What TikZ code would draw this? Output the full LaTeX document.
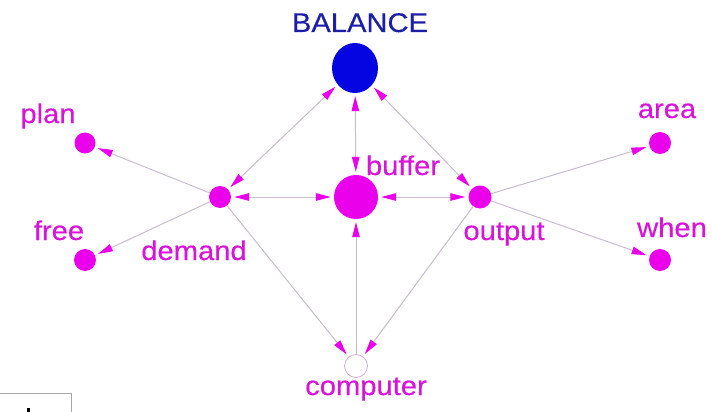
\documentclass[tikz,border=0pt]{standalone}
\usepackage{fontspec}
\newfontfamily\lblfont[FakeStretch=1.08,FakeBold=0.4]{Liberation Sans}
\usetikzlibrary{arrows.meta,shapes.geometric}
\definecolor{mag}{RGB}{235,0,235}
\definecolor{magtxt}{RGB}{215,20,215}
\definecolor{bluedot}{RGB}{5,5,225}
\definecolor{bluetxt}{RGB}{30,30,165}
\definecolor{linegray}{RGB}{200,188,205}
\definecolor{ringgray}{RGB}{205,175,210}
\tikzset{
  dot/.style={circle,fill=mag,draw=none,inner sep=0pt,minimum size=#1},
  lbl/.style={anchor=base,inner sep=0pt,text=magtxt,font=\lblfont\fontsize{27}{30}\selectfont},
  link/.style={draw=linegray,line width=1pt,-{Triangle[length=15pt,width=7.5pt,color=mag]},shorten >=3pt},
  blink/.style={draw=linegray,line width=1pt,{Triangle[length=15pt,width=7.5pt,color=mag]}-{Triangle[length=15pt,width=7.5pt,color=mag]},shorten >=3pt,shorten <=3pt},
}
\begin{document}
\begin{tikzpicture}[x=1pt,y=-1pt]
\useasboundingbox (0,0) rectangle (712,412);
% nodes
\node[ellipse,fill=bluedot,inner sep=0pt,minimum width=46pt,minimum height=50pt] (bal) at (355,68) {};
\node[dot=44pt] (buf) at (356,197) {};
\node[dot=22pt] (dem) at (220,197) {};
\node[dot=23pt] (out) at (480,197) {};
\node[dot=21pt] (plan) at (85,143) {};
\node[dot=22pt] (free) at (85,260) {};
\node[dot=22pt] (area) at (660,143) {};
\node[dot=22pt] (when) at (660,260) {};
\node[circle,fill=white,draw=ringgray,line width=0.8pt,inner sep=0pt,minimum size=23pt] (comp) at (356,366) {};
% labels
\node[lbl,text=bluetxt] (tbal) at (360,32) {BALANCE};
\node[lbl] (tbuf) at (403,175) {buffer};
\node[lbl] (tplan) at (48,123) {plan};
\node[lbl] (tfree) at (59,240) {free};
\node[lbl] (tdem) at (194,260) {demand};
\node[lbl] (tout) at (504,240) {output};
\node[lbl] (tarea) at (667,118) {area};
\node[lbl] (twhen) at (672,237) {when};
\node[lbl] (tcomp) at (366,395) {computer};
% connectors
\draw[link] (dem) -- (plan);
\draw[link] (dem) -- (free);
\draw[blink] (dem) -- (bal);
\draw[blink] (dem) -- (buf);
\draw[link] (dem) -- (comp);
\draw[blink] (bal) -- (buf);
\draw[blink] (bal) -- (out);
\draw[blink] (buf) -- (out);
\draw[link] (comp) -- (buf);
\draw[link] (out) -- (comp);
\draw[link] (out) -- (area);
\draw[link] (out) -- (when);
% partial box at bottom left
\draw[draw=gray!70,line width=0.8pt] (-2,393) rectangle (71,414);
\fill[black] (27,408) rectangle (29.5,412);
\end{tikzpicture}
\end{document}
